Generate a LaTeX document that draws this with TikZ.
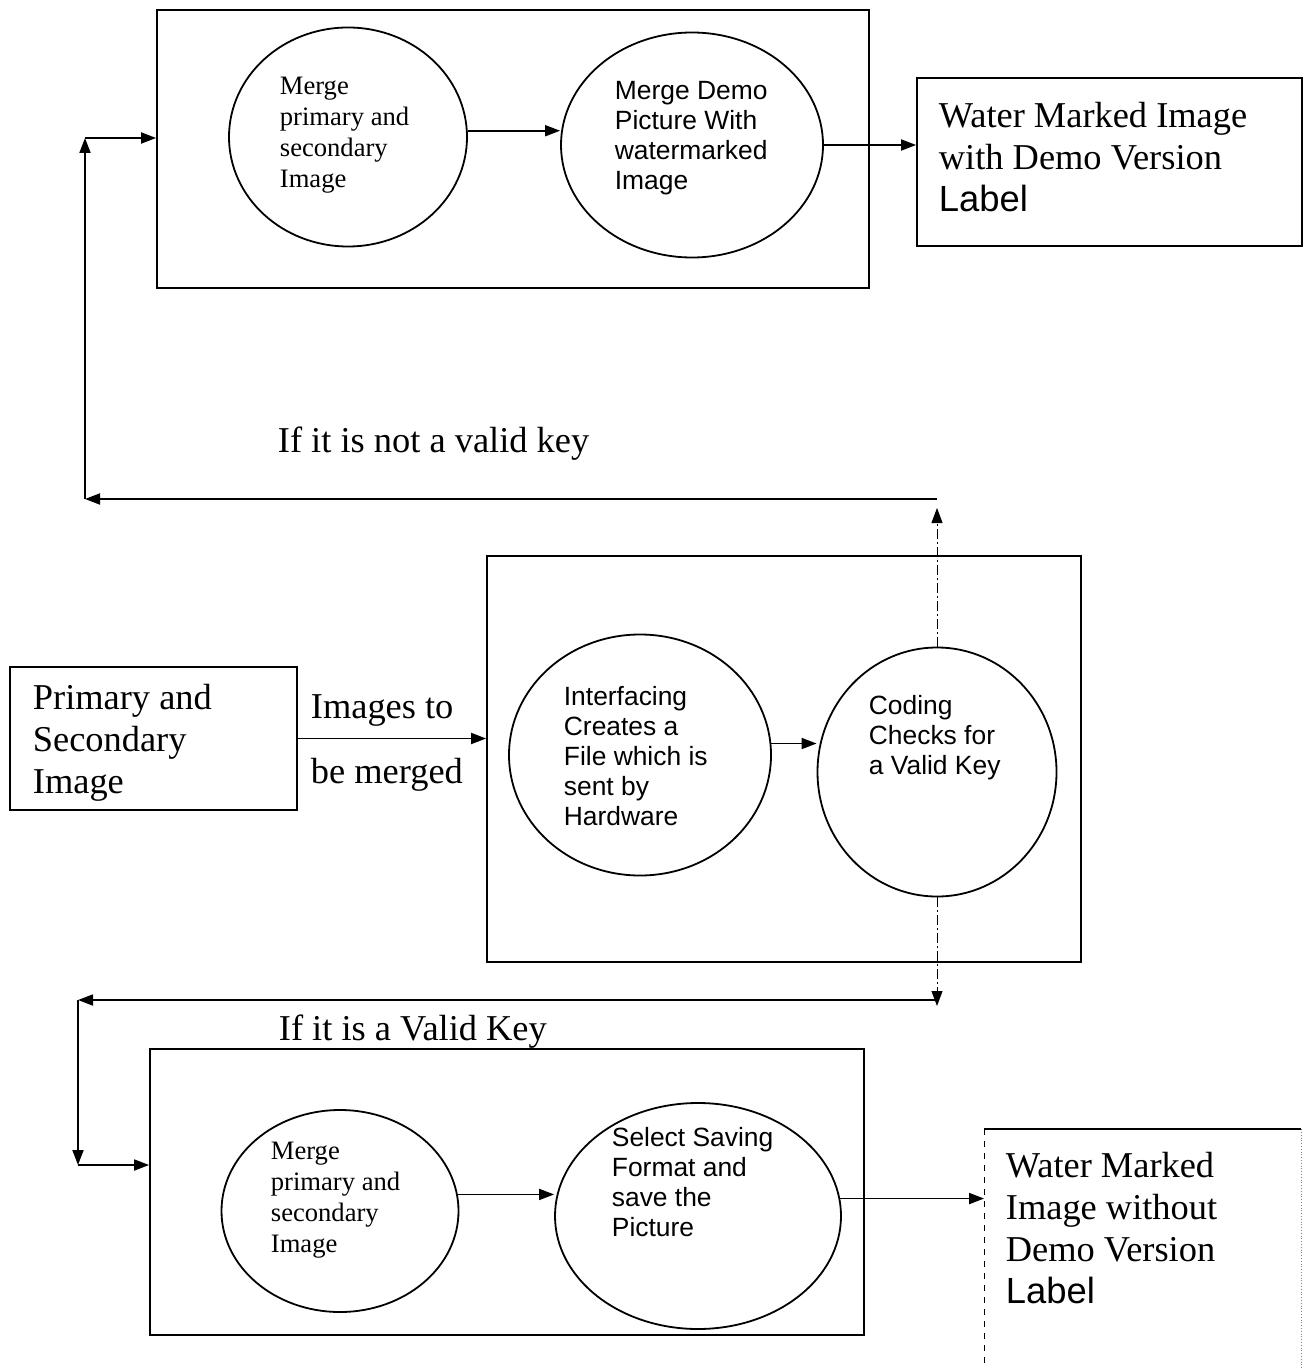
\documentclass[tikz,border=0pt]{standalone}
\usepackage{fontspec}
\setmainfont{Liberation Serif}
\setsansfont{Liberation Sans}
\usetikzlibrary{shapes.geometric,arrows.meta,calc}
\begin{document}
\begin{tikzpicture}[x=0.5pt,y=-0.5pt,
  line width=0.9pt,
  arr/.style={-{Triangle[length=7.5pt,width=5.5pt]}},
  ell/.style={draw,ellipse,inner sep=0pt},
  box/.style={draw,rectangle,inner sep=0pt},
  big/.style={inner sep=0pt,align=left,font=\fontsize{18.2}{21}\selectfont},
  smallrm/.style={inner sep=0pt,align=left,anchor=west,font=\fontsize{13.3}{15.5}\selectfont},
  smallsf/.style={inner sep=0pt,align=left,anchor=west,font=\sffamily\fontsize{13.2}{15}\selectfont},
  dd/.style={line width=0.5pt,dash pattern=on 5pt off 1.5pt on 1pt off 1.5pt}]
\useasboundingbox (0,0) rectangle (1310,1369);

% ---------- top group ----------
\node[box,minimum width=356pt,minimum height=139pt] (boxA) at (513,149) {};
\node[ell,minimum width=119pt,minimum height=109.5pt] (A1) at (348,137) {};
\node[ell,minimum width=131pt,minimum height=112.5pt] (A2) at (692,145) {};
\node[smallrm] (tA1) at (279,135) {Merge\\primary and\\secondary\\Image};
\node[smallsf] (tA2) at (614,138) {Merge Demo\\Picture With\\watermarked\\Image};
\node[box,minimum width=192.5pt,minimum height=84pt] (WM1) at (1109.5,162) {};
\node[big,anchor=west] (tWM1) at (938,157) {Water Marked Image\\with Demo Version\\{\sffamily Label}};
\draw[arr] (A1.3) -- (A1.3 -| A2.west);
\draw[arr] (A2.east) -- (A2.east -| WM1.west);

% ---------- middle group ----------
\node[box,minimum width=143.5pt,minimum height=71.5pt] (P) at (153.5,738.5) {};
\node[big,anchor=west] (tP) at (32,743) {Primary and\\Secondary\\Image};
\node[box,minimum width=297pt,minimum height=203pt] (boxB) at (784,759) {};
\node[ell,minimum width=131pt,minimum height=120.5pt] (B1) at (640,755) {};
\node[ell,minimum width=119.5pt,minimum height=124.5pt] (B2) at (937,772) {};
\node[smallsf] (tB1) at (563,756) {Interfacing\\Creates a\\File which is\\sent by\\Hardware};
\node[smallsf] (tB2) at (868,738) {Coding\\Checks for\\a Valid Key};
\draw[arr] (P.east) -- (P.east -| boxB.west);
\node[big,anchor=west] (lab1) at (310,711) {Images to};
\node[big,anchor=west] (lab2) at (310,775) {be merged};
\draw[arr] (B1.5) -- (B1.5 -| B2.west);

% ---------- bottom group ----------
\node[box,minimum width=357pt,minimum height=143pt] (boxC) at (507,1192) {};
\node[ell,minimum width=118.5pt,minimum height=101pt] (C1) at (340,1211) {};
\node[ell,minimum width=143pt,minimum height=113pt] (C2) at (698,1216) {};
\node[smallrm] (tC1) at (270,1200) {Merge\\primary and\\secondary\\Image};
\node[smallsf] (tC2) at (611,1182) {Select Saving\\Format and\\save the\\Picture};
\node[minimum width=157.5pt,minimum height=119.5pt,inner sep=0pt] (WM2) at (1142.5,1249.5) {};
\draw (WM2.north west) -- (WM2.north east);
\draw[line width=0.4pt,dashed] (WM2.north west) -- (WM2.south west);
\draw[line width=0.4pt,densely dotted,gray] (WM2.north east) -- (WM2.south east);
\node[big,anchor=west] (tWM2) at (1005,1228) {Water Marked\\Image without\\Demo Version\\{\sffamily Label}};
\draw[arr] (C1.8) -- (C1.8 -| C2.west);
\draw[arr] (C2.7) -- (C2.7 -| WM2.west);

% ---------- invalid key loop ----------
\coordinate (u0) at (937,508);
\coordinate (u1) at (937,499);
\coordinate (u2) at (85,499);
\coordinate (u3) at (85,138);
\draw[dd,arr] (B2.north) -- (u0);
\draw[arr] (u1) -- (u2);
\draw[arr] (u2) -- (u3);
\draw[arr] (u3) -- (u3 -| boxA.west);
\node[big,anchor=west] (labNot) at (277,444) {If it is not a valid key};

% ---------- valid key loop ----------
\coordinate (d0) at (937,1006);
\coordinate (d1) at (937,1000);
\coordinate (d2) at (78,1000);
\coordinate (d3) at (78,1165);
\draw[dd,arr] (B2.south) -- (d0);
\draw[arr] (d1) -- (d2);
\draw[arr] (d2) -- (d3);
\draw[arr] (d3) -- (d3 -| boxC.west);
\node[big,anchor=west] (labVal) at (278,1032) {If it is a Valid Key};
\end{tikzpicture}
\end{document}
